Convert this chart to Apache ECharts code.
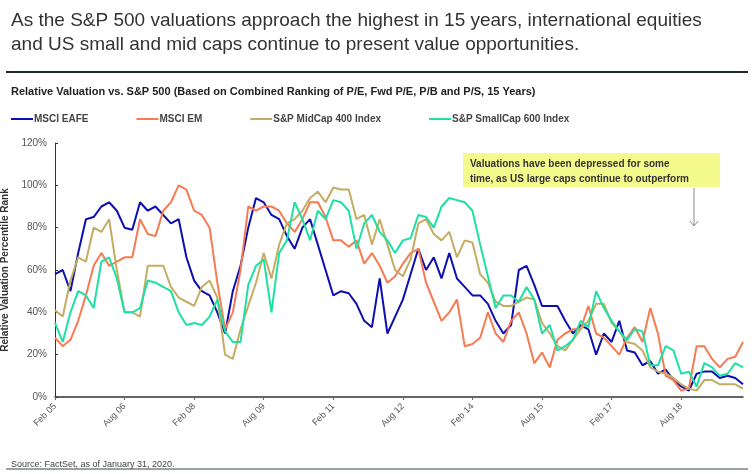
<!DOCTYPE html>
<html>
<head>
<meta charset="utf-8">
<script src="https://cdn.jsdelivr.net/npm/echarts@6/dist/echarts.min.js"></script>
<style>body{margin:0;background:#fff}</style>
</head>
<body>
<div id="main" style="width:756px;height:474px;"></div>
<script>
// two-month steps, Feb 05 .. Dec 19
var eafe = [58,60,50,68,84,85,90,92,88,80,79,92,88,90,86,82,84,66,55,50,48,40,30,50,62,80,94,92,86,84,76,70,80,84,72,60,48,50,49,44,36,33,56,30,38,
    46,58,70,60,66,56,68,56,52,48,48,44,36,30,34,60,62,53,43,43,43,36,30,34,32,20,30,26,36,22,21,15,17,11,13,8,5,3,11,12,12,9,10,9,6];
var em = [28,24,27,36,48,62,68,62,64,66,66,84,77,76,88,92,100,98,88,86,80,54,32,40,60,90,88,90,90,88,82,78,84,92,92,85,74,74,71,74,63,68,62,54,57,
    63,68,70,54,45,36,40,46,24,25,28,40,30,26,36,40,30,16,21,14,27,30,32,32,43,30,28,24,20,28,33,26,42,30,10,8,3,4,24,24,18,14,18,19,26];
var midcap = [41,38,55,66,64,80,78,84,60,40,40,38,62,62,62,52,47,45,43,52,55,47,20,18,32,43,54,68,56,72,82,84,88,94,97,92,99,98,98,84,86,72,84,72,60,
    57,65,82,84,77,74,78,66,74,73,58,54,45,43,43,45,47,46,35,30,24,22,27,32,36,44,44,35,31,26,25,22,14,12,11,9,6,4,3,8,8,6,6,6,4];
var smallcap = [35,26,40,50,48,42,64,66,56,40,40,42,55,54,52,50,40,34,35,34,38,46,31,26,26,53,62,65,40,68,74,92,84,74,88,84,93,92,88,70,82,86,78,74,68,
    74,75,86,85,80,90,94,93,92,88,72,57,42,48,48,45,52,46,30,34,22,24,27,36,33,50,42,36,31,27,32,31,15,15,24,22,11,12,5,16,14,10,11,16,14];

var monthNames = ['Jan','Feb','Mar','Apr','May','Jun','Jul','Aug','Sep','Oct','Nov','Dec'];
var dates = [];
for (var i = 0; i < eafe.length; i++) {
    var m = 1 + 2 * i;
    var yr = 5 + Math.floor(m / 12);
    dates.push(monthNames[m % 12] + ' ' + (yr < 10 ? '0' + yr : yr));
}

var myChart = echarts.init(document.getElementById('main'));
var lineStyle = function (c) { return { width: 2, color: c }; };
myChart.setOption({
    animation: false,
    title: [{
        text: 'As the S&P 500 valuations approach the highest in 15 years, international equities\nand US small and mid caps continue to present value opportunities.',
        left: 6, top: 4,
        textStyle: { fontFamily: 'Liberation Sans', fontSize: 19, fontWeight: 'normal', color: '#333', lineHeight: 24 }
    }, {
        text: 'Relative Valuation vs. S&P 500 (Based on Combined Ranking of P/E, Fwd P/E, P/B and P/S, 15 Years)',
        left: 6, top: 81,
        textStyle: { fontFamily: 'Liberation Sans', fontSize: 11, fontWeight: 'bold', color: '#222' }
    }, {
        text: 'Source: FactSet, as of January 31, 2020.',
        left: 6, top: 455,
        textStyle: { fontFamily: 'Liberation Sans', fontSize: 9, fontWeight: 'normal', color: '#444' }
    }],
    legend: {
        top: 109, left: 6, itemGap: 48, itemWidth: 22, itemHeight: 2, icon: 'rect',
        textStyle: { fontFamily: 'Liberation Sans', fontSize: 10, fontWeight: 'bold', color: '#444', padding: [0, 0, 0, -4] },
        data: ['MSCI EAFE', 'MSCI EM', 'S&P MidCap 400 Index', 'S&P SmallCap 600 Index']
    },
    grid: { left: 55, right: 13, top: 143, bottom: 77, containLabel: false, outerBoundsMode: 'none' },
    xAxis: {
        type: 'category', boundaryGap: false, data: dates,
        axisLine: { lineStyle: { color: '#333', width: 1.5 } },
        axisTick: { interval: 8, length: 3, lineStyle: { color: '#666' } },
        axisLabel: { interval: 8, rotate: 45, color: '#555', fontSize: 9, fontFamily: 'Liberation Sans', margin: 8 }
    },
    yAxis: {
        type: 'value', min: 0, max: 120, interval: 20,
        name: 'Relative Valuation Percentile Rank', nameLocation: 'middle', nameGap: 38,
        nameTextStyle: { fontFamily: 'Liberation Sans', fontSize: 10, fontWeight: 'bold', color: '#333' },
        axisLine: { show: true, lineStyle: { color: '#333' } },
        axisTick: { show: true, length: 3, inside: true, lineStyle: { color: '#333' } },
        splitLine: { show: false },
        axisLabel: { formatter: '{value}%', color: '#555', fontSize: 10, fontFamily: 'Liberation Sans' }
    },
    graphic: [
        { type: 'line', shape: { x1: 6, y1: 72, x2: 748, y2: 72 }, style: { stroke: '#1e2a22', lineWidth: 2 } },
        { type: 'line', shape: { x1: 6, y1: 469, x2: 748, y2: 469 }, style: { stroke: '#7a8580', lineWidth: 1.5 } },
        { type: 'rect', shape: { x: 463, y: 153, width: 257, height: 34 }, style: { fill: '#f4fa8c' } },
        { type: 'text', x: 470, y: 157, style: { text: 'Valuations have been depressed for some\ntime, as US large caps continue to outperform', fill: '#333', font: 'bold 10px "Liberation Sans"', lineHeight: 15 } },
        { type: 'line', shape: { x1: 694, y1: 188, x2: 694, y2: 226 }, style: { stroke: '#888', lineWidth: 1 } },
        { type: 'polyline', shape: { points: [[690, 221], [694, 226], [698, 221]] }, style: { stroke: '#888', fill: null, lineWidth: 1 } }
    ],
    series: [
        { name: 'MSCI EAFE', type: 'line', data: eafe, symbol: 'none', lineStyle: lineStyle('#0d0fb0'), itemStyle: { color: '#0d0fb0' } },
        { name: 'MSCI EM', type: 'line', data: em, symbol: 'none', lineStyle: lineStyle('#f77a52'), itemStyle: { color: '#f77a52' } },
        { name: 'S&P MidCap 400 Index', type: 'line', data: midcap, symbol: 'none', lineStyle: lineStyle('#c4ac62'), itemStyle: { color: '#c4ac62' } },
        { name: 'S&P SmallCap 600 Index', type: 'line', data: smallcap, symbol: 'none', lineStyle: lineStyle('#1de0a4'), itemStyle: { color: '#1de0a4' } }
    ]
});
</script>
</body>
</html>
